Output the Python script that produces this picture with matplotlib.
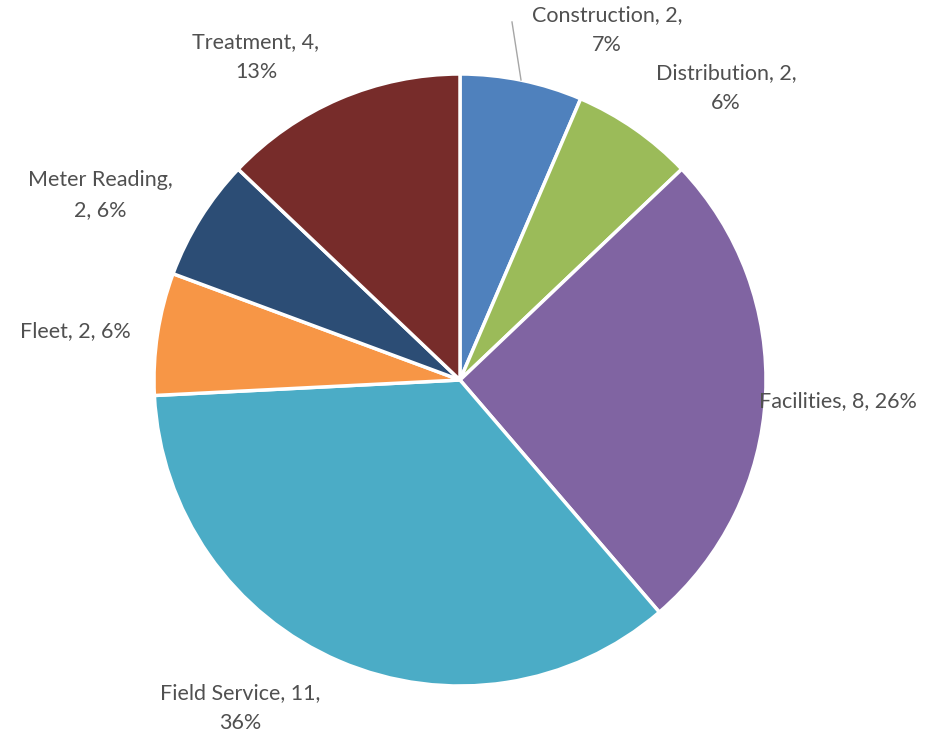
import matplotlib.pyplot as plt

categories = ["Construction", "Distribution", "Facilities", "Field Service",
              "Fleet", "Meter Reading", "Treatment"]
values = [2, 2, 8, 11, 2, 2, 4]
percents = [7, 6, 26, 36, 6, 6, 13]
colors = ["#4F81BD", "#9BBB59", "#8064A2", "#4BACC6",
          "#F79646", "#2C4D75", "#772C2A"]

# label text layout (line break after which part) and pixel positions
label_texts = [
    "Construction, 2,\n7%",
    "Distribution, 2,\n6%",
    "Facilities, 8, 26%",
    "Field Service, 11,\n36%",
    "Fleet, 2, 6%",
    "Meter Reading,\n2, 6%",
    "Treatment, 4,\n13%",
]
label_pos = [(607, 30), (726, 88), (838, 401), (240, 708),
             (75, 331), (100, 195), (256, 57)]

W, H = 935, 736
fig = plt.figure(figsize=(W / 100, H / 100), dpi=100)
ax = fig.add_axes([0, 0, 1, 1])

cx, cy, r = 460, H - 380, 306
ax.pie(values, colors=colors, startangle=90, counterclock=False,
       center=(cx, cy), radius=r,
       wedgeprops=dict(edgecolor="white", linewidth=2.5))

for txt, (x, y) in zip(label_texts, label_pos):
    ax.text(x, H - y, txt, ha="center", va="center", fontsize=15.5,
            family="Lato", color="#505050", linespacing=1.6)

# leader line for Construction
ax.plot([521, 512], [H - 80, H - 22], color="#A6A6A6", linewidth=1)

ax.set_xlim(0, W)
ax.set_ylim(0, H)
ax.set_aspect("equal")
ax.axis("off")
fig.savefig("out.png", dpi=100)
